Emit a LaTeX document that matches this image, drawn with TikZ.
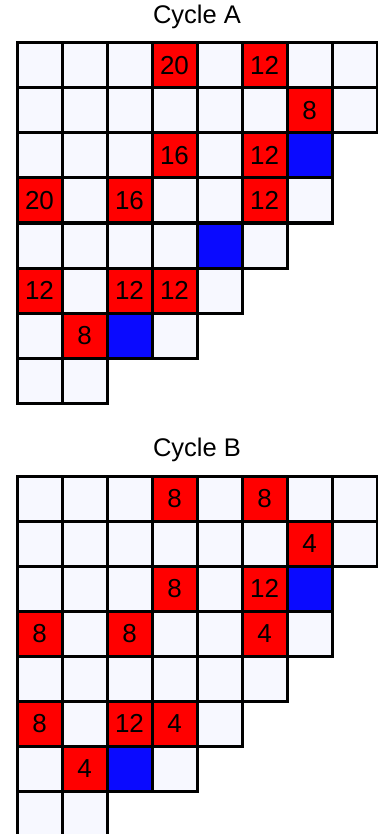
\documentclass[tikz,border=0pt]{standalone}
\usepackage{fontspec}
\setmainfont{Liberation Sans}
\definecolor{pale}{HTML}{F7F8FF}
\definecolor{hotred}{HTML}{FF0000}
\definecolor{coldblue}{HTML}{0A0AFF}

\tikzset{
  cell/.style={draw=black,line width=3pt,fill=pale},
  hot/.style={cell,fill=hotred},
  cold/.style={cell,fill=coldblue},
  cellnum/.style={font=\fontsize{26}{26}\selectfont},
  heading/.style={font=\fontsize{25.5}{26}\selectfont}
}

% staircase of cells, top left corner at (#1,#2)
\newcommand{\stairgrid}[2]{%
  \foreach \len [count=\r from 0] in {8,8,7,7,6,5,4,2} {
    \pgfmathtruncatemacro{\last}{\len-1}
    \foreach \c in {0,...,\last}
      \draw[cell] (#1+45*\c,#2+45*\r) rectangle ++(45,45);
  }%
}

\begin{document}
\begin{tikzpicture}[x=1pt,y=-1pt]
\useasboundingbox (0,0) rectangle (377,834);

% Cycle A
\node[heading] (titleA) at (197,17) {Cycle A};
\stairgrid{17}{43}
\foreach \c/\r/\v in {3/0/20,5/0/12,6/1/8,3/2/16,5/2/12,0/3/20,2/3/16,5/3/12,0/5/12,2/5/12,3/5/12,1/6/8} {
  \draw[hot] (17+45*\c,43+45*\r) rectangle ++(45,45);
  \node[cellnum] (a-\c-\r) at (39.5+45*\c,65.5+45*\r) {\v};
}
\foreach \c/\r in {6/2,4/4,2/6}
  \draw[cold] (17+45*\c,43+45*\r) rectangle ++(45,45);

% Cycle B
\node[heading] (titleB) at (197,450) {Cycle B};
\stairgrid{17}{476}
\foreach \c/\r/\v in {3/0/8,5/0/8,6/1/4,3/2/8,5/2/12,0/3/8,2/3/8,5/3/4,0/5/8,2/5/12,3/5/4,1/6/4} {
  \draw[hot] (17+45*\c,476+45*\r) rectangle ++(45,45);
  \node[cellnum] (b-\c-\r) at (39.5+45*\c,498.5+45*\r) {\v};
}
\foreach \c/\r in {6/2,2/6}
  \draw[cold] (17+45*\c,476+45*\r) rectangle ++(45,45);
\end{tikzpicture}
\end{document}
